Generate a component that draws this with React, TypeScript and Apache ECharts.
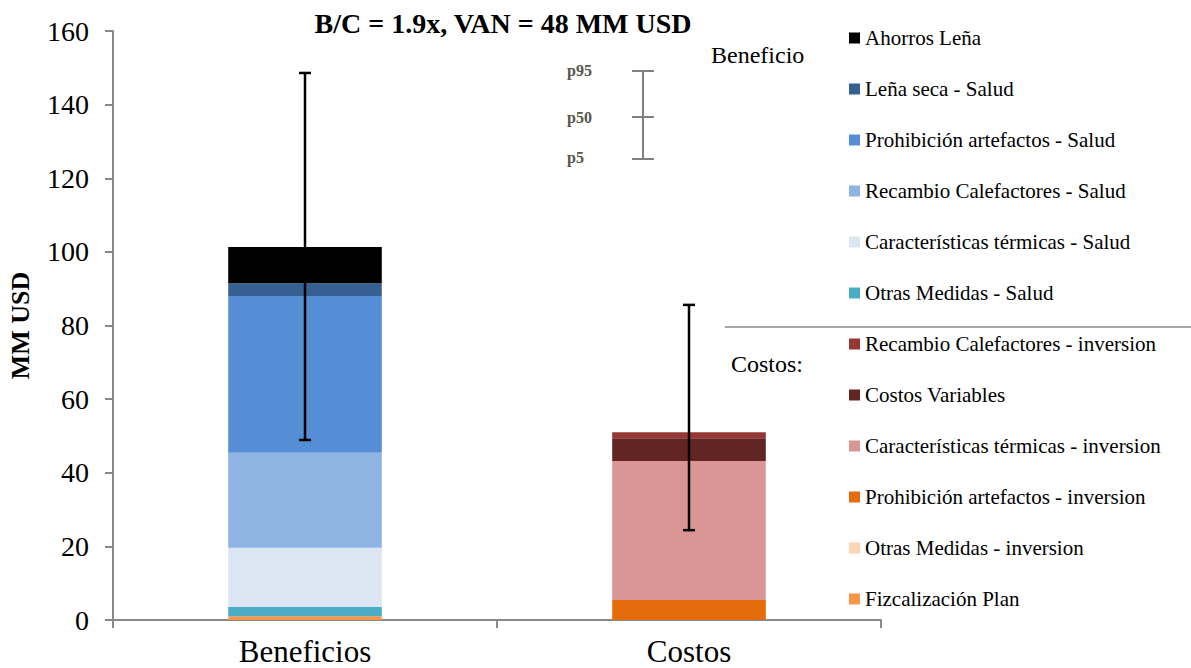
import React, { useEffect, useRef } from "react";
import * as echarts from "echarts";

const categories = ["Beneficios", "Costos"];

const seriesNames = [
  "Fizcalización Plan",
  "Otras Medidas - Salud",
  "Características térmicas - Salud",
  "Recambio Calefactores - Salud",
  "Prohibición artefactos - Salud",
  "Leña seca - Salud",
  "Ahorros Leña",
  "Otras Medidas - inversion",
  "Prohibición artefactos - inversion",
  "Características térmicas - inversion",
  "Costos Variables",
  "Recambio Calefactores - inversion",
];

const seriesColors = [
  "#F79646",
  "#4BACC6",
  "#DCE6F2",
  "#8EB4E3",
  "#558ED5",
  "#376092",
  "#000000",
  "#FCD5B5",
  "#E46C0A",
  "#D99694",
  "#632523",
  "#953735",
];

// values per series: [Beneficios, Costos]
const seriesValues: number[][] = [
  [1.0, 0],
  [2.6, 0],
  [16.0, 0],
  [25.8, 0],
  [42.6, 0],
  [3.5, 0],
  [9.8, 0],
  [0, 0],
  [0, 5.4],
  [0, 37.8],
  [0, 6.2],
  [0, 1.6],
];

const legendOrder = [
  "Ahorros Leña",
  "Leña seca - Salud",
  "Prohibición artefactos - Salud",
  "Recambio Calefactores - Salud",
  "Características térmicas - Salud",
  "Otras Medidas - Salud",
  "Recambio Calefactores - inversion",
  "Costos Variables",
  "Características térmicas - inversion",
  "Prohibición artefactos - inversion",
  "Otras Medidas - inversion",
  "Fizcalización Plan",
];

// error bars: [category index, p5, p95]
const errorBars = [
  [0, 48.9, 148.6],
  [1, 24.4, 85.6],
];

const yTicks = { min: 0, max: 160, interval: 20 };

const FONT = "Liberation Serif";

export default function App() {
  const ref = useRef<HTMLDivElement>(null);

  useEffect(() => {
    if (!ref.current) return;
    const chart = echarts.init(ref.current, null, { renderer: "svg" });

    const barSeries = seriesNames.map((name, i) => ({
      name,
      type: "bar",
      stack: "total",
      barWidth: "40%",
      itemStyle: { color: seriesColors[i] },
      data: seriesValues[i],
      z: 2,
    }));

    const option: any = {
      animation: false,
      backgroundColor: "#ffffff",
      textStyle: { fontFamily: FONT },
      title: {
        text: "B/C = 1.9x, VAN = 48 MM USD",
        left: 498,
        textAlign: "center",
        top: 4,
        textStyle: {
          fontFamily: FONT,
          fontSize: 28,
          fontWeight: "bold",
          color: "#000",
        },
      },
      grid: {
        left: 113,
        right: 310,
        top: 31,
        bottom: 48,
        containLabel: false,
        outerBoundsMode: "none",
      },
      legend: {
        orient: "vertical",
        left: 849,
        top: 27,
        padding: 0,
        itemWidth: 11,
        itemHeight: 11,
        itemGap: 29,
        icon: "rect",
        selectedMode: false,
        data: legendOrder,
        textStyle: {
          fontFamily: FONT,
          fontSize: 21,
          lineHeight: 22,
          color: "#000",
        },
      },
      xAxis: {
        type: "category",
        data: categories,
        axisLine: { lineStyle: { color: "#898989", width: 2 } },
        axisTick: { show: true, length: 8, lineStyle: { color: "#898989", width: 2 } },
        axisLabel: {
          fontFamily: FONT,
          fontSize: 31,
          lineHeight: 31,
          color: "#000",
          margin: 16,
        },
      },
      yAxis: {
        type: "value",
        min: yTicks.min,
        max: yTicks.max,
        interval: yTicks.interval,
        name: "MM USD",
        nameLocation: "middle",
        nameGap: 80,
        nameTextStyle: {
          fontFamily: FONT,
          fontSize: 26,
          fontWeight: "bold",
          color: "#000",
        },
        axisLine: { show: true, lineStyle: { color: "#898989", width: 2 } },
        axisTick: { show: true, length: 8, lineStyle: { color: "#898989", width: 2 } },
        splitLine: { show: false },
        axisLabel: {
          fontFamily: FONT,
          fontSize: 28,
          color: "#000",
          margin: 24,
        },
      },
      series: [
        ...barSeries,
        {
          type: "custom",
          name: "p5-p95",
          z: 10,
          data: errorBars,
          encode: { x: 0, y: [1, 2] },
          renderItem: (params: any, api: any) => {
            const x = api.value(0);
            const lo = api.coord([x, api.value(1)]);
            const hi = api.coord([x, api.value(2)]);
            const half = 6;
            const style = { stroke: "#000", lineWidth: 2.5 };
            return {
              type: "group",
              children: [
                { type: "line", shape: { x1: hi[0], y1: hi[1], x2: lo[0], y2: lo[1] }, style },
                { type: "line", shape: { x1: hi[0] - half, y1: hi[1], x2: hi[0] + half, y2: hi[1] }, style },
                { type: "line", shape: { x1: lo[0] - half, y1: lo[1], x2: lo[0] + half, y2: lo[1] }, style },
              ],
            };
          },
        },
      ],
      graphic: [
        {
          type: "text",
          left: 711,
          top: 43,
          style: { text: "Beneficio", font: `24px ${FONT}`, fill: "#000" },
        },
        {
          type: "text",
          left: 731,
          top: 352,
          style: { text: "Costos:", font: `24px ${FONT}`, fill: "#000" },
        },
        {
          type: "line",
          shape: { x1: 725, y1: 327, x2: 1191, y2: 327 },
          style: { stroke: "#a6a6a6", lineWidth: 2 },
        },
        { type: "text", left: 567, top: 62, style: { text: "p95", font: `bold 16px ${FONT}`, fill: "#55554a" } },
        { type: "text", left: 567, top: 109, style: { text: "p50", font: `bold 16px ${FONT}`, fill: "#55554a" } },
        { type: "text", left: 567, top: 149, style: { text: "p5", font: `bold 16px ${FONT}`, fill: "#55554a" } },
        { type: "line", shape: { x1: 643, y1: 71, x2: 643, y2: 159 }, style: { stroke: "#7f7f7f", lineWidth: 2 } },
        { type: "line", shape: { x1: 632, y1: 71, x2: 654, y2: 71 }, style: { stroke: "#7f7f7f", lineWidth: 2 } },
        { type: "line", shape: { x1: 632, y1: 117, x2: 654, y2: 117 }, style: { stroke: "#7f7f7f", lineWidth: 2 } },
        { type: "line", shape: { x1: 632, y1: 159, x2: 654, y2: 159 }, style: { stroke: "#7f7f7f", lineWidth: 2 } },
      ],
    };

    chart.setOption(option);
    return () => chart.dispose();
  }, []);

  return (
    <div
      ref={ref}
      style={{ position: "absolute", left: 0, top: 0, width: 1191, height: 668 }}
    />
  );
}
